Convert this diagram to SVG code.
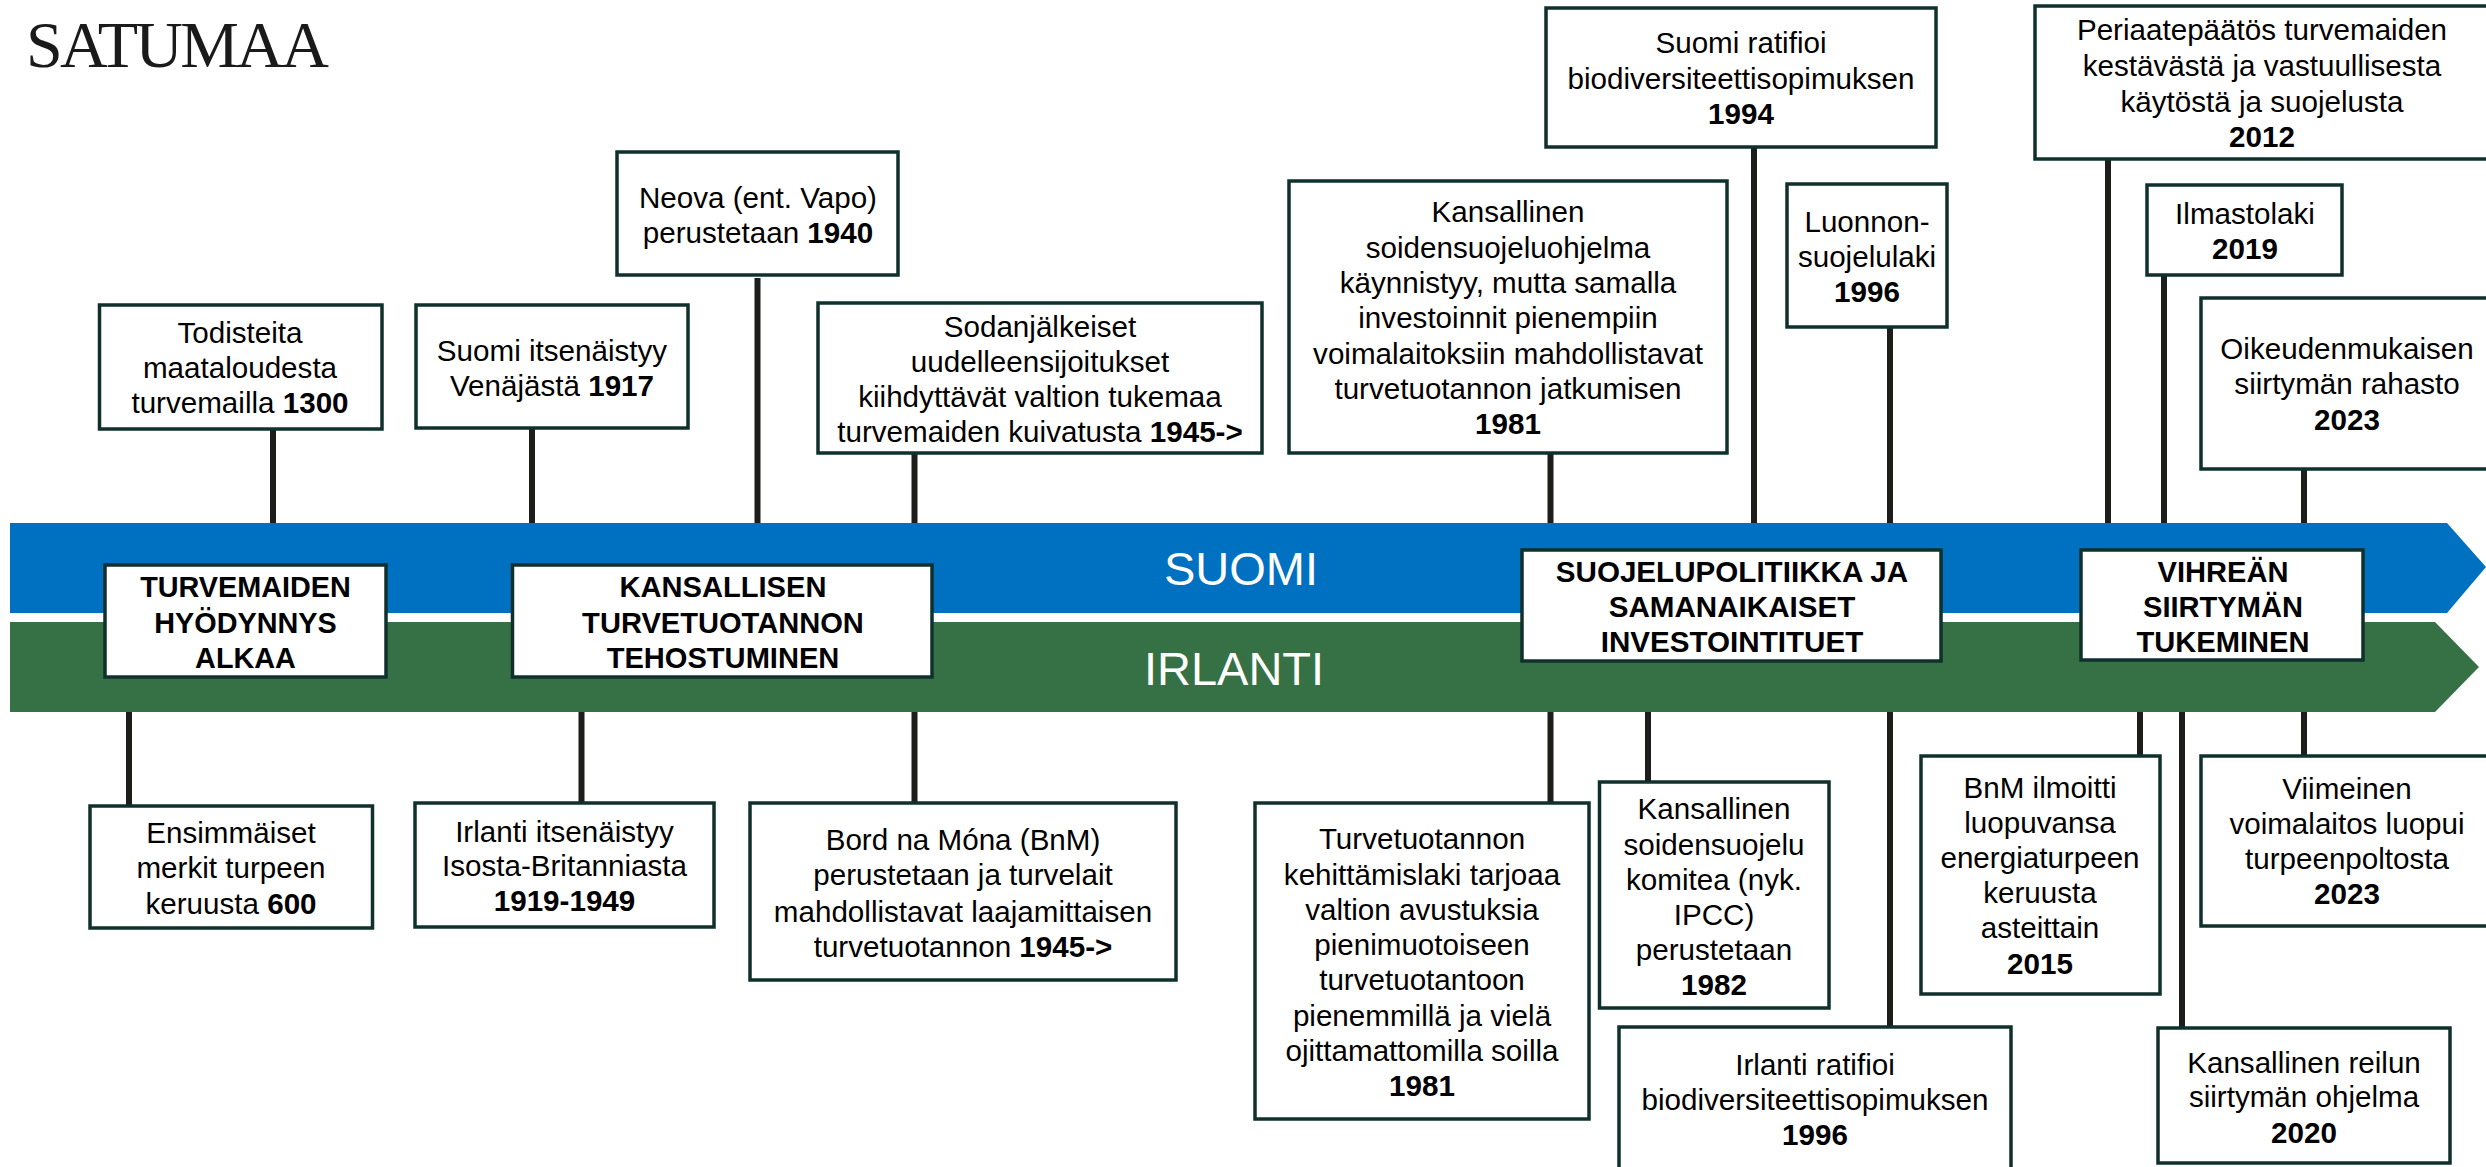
<svg xmlns="http://www.w3.org/2000/svg" width="2486" height="1167" viewBox="0 0 2486 1167">
<style>
.box{fill:#fff;stroke:#10302c;stroke-width:3.5}
.c{stroke:#1d1d1b;stroke-width:6;fill:none}
text{font-family:"Liberation Sans",Arial,sans-serif;font-size:29.6px;fill:#000;text-anchor:middle}
.b{font-weight:700}
.h1{font-size:28.8px}
.h2{font-size:29.1px}
.bar{font-size:47px;fill:#fff}
</style>
<rect width="2486" height="1167" fill="#fff"/>
<text x="26" y="67" style="font-family:'Liberation Serif',serif;font-size:66px;text-anchor:start;fill:#1a1a1a" textLength="303" lengthAdjust="spacing">SATUMAA</text>
<g id="bars">
<path d="M10 523H2447L2486 567L2447 613H10Z" fill="#0070c0"/>
<path d="M10 622H2435L2479 667L2435 712H10Z" fill="#367145"/>
<text class="bar" x="1241" y="585">SUOMI</text>
<text class="bar" x="1234" y="685">IRLANTI</text>
</g>
<g id="connectors">
<path class="c" d="M273 429V523M532 429V523M757.500 278V523M914.500 453V523M1550.500 452V523M1754 147V523M1890 327V523M2108 159V523M2164 275V523M2304 469V523"/>
<path class="c" d="M129 712V806M581.500 712V803M914.500 712V803M1550.500 712V803M1648 712V782M1890 712V1027M2140 712V756M2182 712V1028M2304 712V756"/>
</g>
<g id="n1"><rect class="box" x="99.500" y="305" width="282.500" height="124"/><text x="240" y="342.500">Todisteita</text><text x="240" y="378">maataloudesta</text><text x="240" y="412.500">turvemailla <tspan class="b">1300</tspan></text></g>
<g id="n2"><rect class="box" x="416" y="305" width="272" height="123"/><text x="552" y="361">Suomi itsenäistyy</text><text x="552" y="396">Venäjästä <tspan class="b">1917</tspan></text></g>
<g id="n3"><rect class="box" x="617" y="152" width="281" height="123"/><text x="758" y="208">Neova (ent. Vapo)</text><text x="758" y="243">perustetaan <tspan class="b">1940</tspan></text></g>
<g id="n4"><rect class="box" x="818" y="303" width="444" height="150"/><text x="1040" y="337">Sodanjälkeiset</text><text x="1040" y="372">uudelleensijoitukset</text><text x="1040" y="407">kiihdyttävät valtion tukemaa</text><text x="1040" y="442">turvemaiden kuivatusta <tspan class="b">1945-&gt;</tspan></text></g>
<g id="n5"><rect class="box" x="1289" y="181" width="438" height="272"/><text x="1508" y="222">Kansallinen</text><text x="1508" y="257.500">soidensuojeluohjelma</text><text x="1508" y="293">käynnistyy, mutta samalla</text><text x="1508" y="328">investoinnit pienempiin</text><text x="1508" y="364">voimalaitoksiin mahdollistavat</text><text x="1508" y="399">turvetuotannon jatkumisen</text><text class="b" x="1508" y="434">1981</text></g>
<g id="n6"><rect class="box" x="1546" y="8" width="390" height="139"/><text x="1741" y="53">Suomi ratifioi</text><text x="1741" y="89">biodiversiteettisopimuksen</text><text class="b" x="1741" y="124">1994</text></g>
<g id="n7"><rect class="box" x="1787" y="184" width="160" height="143"/><text x="1867" y="232">Luonnon-</text><text x="1867" y="267">suojelulaki</text><text class="b" x="1867" y="302">1996</text></g>
<g id="n8"><rect class="box" x="2035" y="6" width="470" height="153"/><text x="2262" y="40">Periaatepäätös turvemaiden</text><text x="2262" y="76">kestävästä ja vastuullisesta</text><text x="2262" y="111.500">käytöstä ja suojelusta</text><text class="b" x="2262" y="147">2012</text></g>
<g id="n9"><rect class="box" x="2147" y="185" width="195" height="90"/><text x="2245" y="224">Ilmastolaki</text><text class="b" x="2245" y="259">2019</text></g>
<g id="n10"><rect class="box" x="2201" y="298" width="300" height="171"/><text x="2347" y="359">Oikeudenmukaisen</text><text x="2347" y="394">siirtymän rahasto</text><text class="b" x="2347" y="430">2023</text></g>
<g id="p1"><rect class="box" x="105" y="565" width="281" height="112"/><text class="b h1" x="245.500" y="597">TURVEMAIDEN</text><text class="b h1" x="245.500" y="633">HYÖDYNNYS</text><text class="b h1" x="245.500" y="668">ALKAA</text></g>
<g id="p2"><rect class="box" x="512.500" y="565" width="419.500" height="112"/><text class="b h2" x="723" y="597">KANSALLISEN</text><text class="b h2" x="723" y="633">TURVETUOTANNON</text><text class="b h2" x="723" y="668">TEHOSTUMINEN</text></g>
<g id="p3"><rect class="box" x="1522" y="550" width="419" height="111"/><text class="b" x="1732" y="582">SUOJELUPOLITIIKKA JA</text><text class="b" x="1732" y="617">SAMANAIKAISET</text><text class="b" x="1732" y="651.500">INVESTOINTITUET</text></g>
<g id="p4"><rect class="box" x="2081" y="550" width="282" height="110"/><text class="b h2" x="2223" y="582">VIHREÄN</text><text class="b h2" x="2223" y="617">SIIRTYMÄN</text><text class="b h2" x="2223" y="652">TUKEMINEN</text></g>
<g id="m1"><rect class="box" x="90" y="806" width="282.500" height="122"/><text x="231" y="843">Ensimmäiset</text><text x="231" y="878">merkit turpeen</text><text x="231" y="914">keruusta <tspan class="b">600</tspan></text></g>
<g id="m2"><rect class="box" x="415" y="803" width="299" height="124"/><text x="564.500" y="842">Irlanti itsenäistyy</text><text x="564.500" y="876">Isosta-Britanniasta</text><text class="b" x="564.500" y="911">1919-1949</text></g>
<g id="m3"><rect class="box" x="750" y="803" width="426" height="177"/><text x="963" y="850">Bord na Móna (BnM)</text><text x="963" y="885">perustetaan ja turvelait</text><text x="963" y="922">mahdollistavat laajamittaisen</text><text x="963" y="957">turvetuotannon <tspan class="b">1945-&gt;</tspan></text></g>
<g id="m4"><rect class="box" x="1255" y="803" width="334" height="316"/><text x="1422" y="849">Turvetuotannon</text><text x="1422" y="885">kehittämislaki tarjoaa</text><text x="1422" y="920">valtion avustuksia</text><text x="1422" y="955">pienimuotoiseen</text><text x="1422" y="990">turvetuotantoon</text><text x="1422" y="1025.500">pienemmillä ja vielä</text><text x="1422" y="1061">ojittamattomilla soilla</text><text class="b" x="1422" y="1096">1981</text></g>
<g id="m5"><rect class="box" x="1599.500" y="782" width="229.500" height="226"/><text x="1714" y="819">Kansallinen</text><text x="1714" y="854.500">soidensuojelu</text><text x="1714" y="890">komitea (nyk.</text><text x="1714" y="925">IPCC)</text><text x="1714" y="960">perustetaan</text><text class="b" x="1714" y="995">1982</text></g>
<g id="m6"><rect class="box" x="1619" y="1027" width="392" height="160"/><text x="1815" y="1074.500">Irlanti ratifioi</text><text x="1815" y="1110">biodiversiteettisopimuksen</text><text class="b" x="1815" y="1145">1996</text></g>
<g id="m7"><rect class="box" x="1921" y="756" width="239" height="238"/><text x="2040" y="798">BnM ilmoitti</text><text x="2040" y="833">luopuvansa</text><text x="2040" y="868">energiaturpeen</text><text x="2040" y="903">keruusta</text><text x="2040" y="938">asteittain</text><text class="b" x="2040" y="974">2015</text></g>
<g id="m8"><rect class="box" x="2201" y="756" width="300" height="170"/><text x="2347" y="799">Viimeinen</text><text x="2347" y="834">voimalaitos luopui</text><text x="2347" y="869">turpeenpoltosta</text><text class="b" x="2347" y="904">2023</text></g>
<g id="m9"><rect class="box" x="2158" y="1028" width="292" height="135"/><text x="2304" y="1073">Kansallinen reilun</text><text x="2304" y="1107">siirtymän ohjelma</text><text class="b" x="2304" y="1143">2020</text></g>
</svg>
